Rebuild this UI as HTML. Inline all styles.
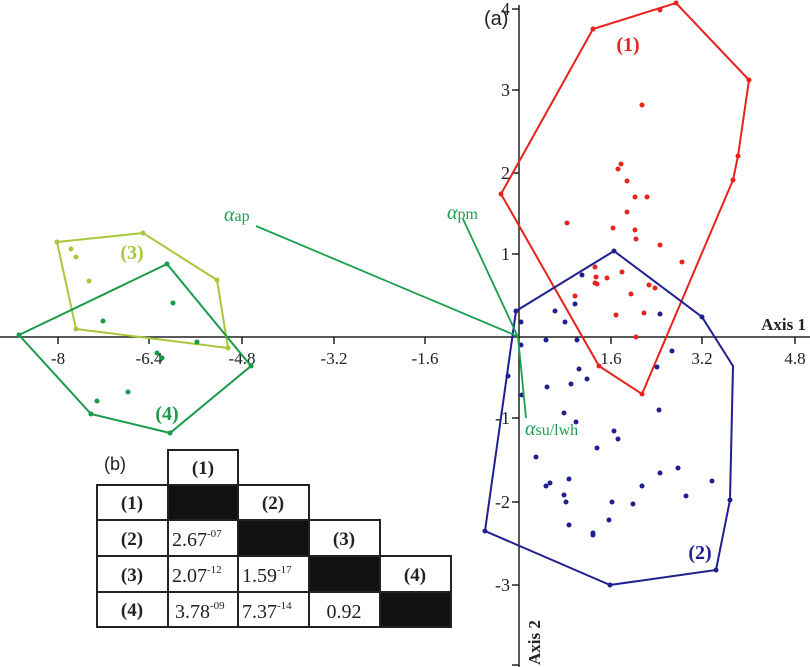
<!DOCTYPE html>
<html><head><meta charset="utf-8"><style>
html,body{margin:0;padding:0;background:#fff;}
svg{display:block;font-family:"Liberation Serif",serif;}
</style></head><body>
<svg width="810" height="667" viewBox="0 0 810 667" xmlns="http://www.w3.org/2000/svg">
<g stroke="#222" stroke-width="1.5" fill="none">
<line x1="0" y1="337" x2="810" y2="337"/>
<line x1="519" y1="5" x2="519" y2="667"/>
<line x1="58" y1="337" x2="58" y2="344"/><line x1="149" y1="337" x2="149" y2="344"/>
<line x1="242" y1="337" x2="242" y2="344"/><line x1="334" y1="337" x2="334" y2="344"/>
<line x1="425" y1="337" x2="425" y2="344"/><line x1="611" y1="337" x2="611" y2="344"/>
<line x1="702" y1="337" x2="702" y2="344"/><line x1="795" y1="337" x2="795" y2="344"/>
<line x1="512" y1="9" x2="519" y2="9"/><line x1="512" y1="90" x2="519" y2="90"/>
<line x1="512" y1="173" x2="519" y2="173"/><line x1="512" y1="254" x2="519" y2="254"/>
<line x1="512" y1="418" x2="519" y2="418"/><line x1="512" y1="502" x2="519" y2="502"/>
<line x1="512" y1="585" x2="519" y2="585"/><line x1="512" y1="665" x2="519" y2="665"/>
</g>
<g font-size="17" fill="#222" text-anchor="middle">
<text x="58" y="364">-8</text><text x="149" y="364">-6.4</text><text x="242" y="364">-4.8</text>
<text x="334" y="364">-3.2</text><text x="425" y="364">-1.6</text><text x="611" y="364">1.6</text>
<text x="702" y="364">3.2</text><text x="795" y="364">4.8</text>
</g>
<g font-size="18" fill="#222" text-anchor="end">
<text x="510" y="15">4</text><text x="510" y="96">3</text><text x="510" y="179">2</text>
<text x="510" y="260">1</text><text x="510" y="424">-1</text><text x="510" y="508">-2</text>
<text x="510" y="591">-3</text>
</g>
<text x="806" y="330" font-size="17" font-weight="bold" text-anchor="end" fill="#222">Axis 1</text>
<text transform="translate(540,665) rotate(-90)" font-size="17" font-weight="bold" fill="#222">Axis 2</text>
<text x="484" y="25" font-family="Liberation Sans,sans-serif" font-size="20" fill="#222">(a)</text>

<polygon points="501,194 593,29 676,3 749,80 738,156 733,180 642,394 599,366" fill="none" stroke="#e8221c" stroke-width="2"/>
<g fill="#e8221c">
<circle cx="501" cy="194" r="2.5"/><circle cx="593" cy="29" r="2.5"/><circle cx="676" cy="3" r="2.5"/><circle cx="749" cy="80" r="2.5"/><circle cx="733" cy="180" r="2.5"/><circle cx="642" cy="394" r="2.5"/><circle cx="599" cy="366" r="2.5"/>
<circle cx="660" cy="10" r="2.5"/><circle cx="642" cy="105" r="2.5"/><circle cx="621" cy="164" r="2.5"/><circle cx="618" cy="169" r="2.5"/><circle cx="627" cy="181" r="2.5"/><circle cx="738" cy="156" r="2.5"/>
<circle cx="635" cy="197" r="2.5"/><circle cx="647" cy="197" r="2.5"/><circle cx="627" cy="212" r="2.5"/><circle cx="567" cy="223" r="2.5"/><circle cx="613" cy="228" r="2.5"/><circle cx="635" cy="230" r="2.5"/><circle cx="636" cy="239" r="2.5"/><circle cx="660" cy="245" r="2.5"/><circle cx="682" cy="262" r="2.5"/><circle cx="595" cy="267" r="2.5"/><circle cx="596" cy="277" r="2.5"/><circle cx="607" cy="278" r="2.5"/><circle cx="595" cy="283" r="2.5"/><circle cx="597" cy="284" r="2.5"/><circle cx="622" cy="272" r="2.5"/><circle cx="649" cy="285" r="2.5"/><circle cx="655" cy="288" r="2.5"/><circle cx="575" cy="296" r="2.5"/><circle cx="631" cy="294" r="2.5"/><circle cx="616" cy="315" r="2.5"/><circle cx="644" cy="313" r="2.5"/><circle cx="636" cy="337" r="2.5"/>
</g>
<text x="628" y="51" font-size="20" font-weight="bold" fill="#e8221c" text-anchor="middle">(1)</text>

<polygon points="516,311 614,251 702,317 733,366 730,500 716,570 610,585 485,531" fill="none" stroke="#1f1f8f" stroke-width="2"/>
<g fill="#1f1f8f">
<circle cx="516" cy="311" r="2.5"/><circle cx="614" cy="251" r="2.5"/><circle cx="702" cy="317" r="2.5"/><circle cx="730" cy="500" r="2.5"/><circle cx="716" cy="570" r="2.5"/><circle cx="610" cy="585" r="2.5"/><circle cx="485" cy="531" r="2.5"/>
<circle cx="582" cy="275" r="2.5"/><circle cx="555" cy="311" r="2.5"/><circle cx="565" cy="322" r="2.5"/><circle cx="575" cy="304" r="2.5"/><circle cx="660" cy="314" r="2.5"/><circle cx="521" cy="322" r="2.5"/><circle cx="546" cy="340" r="2.5"/><circle cx="577" cy="340" r="2.5"/><circle cx="521" cy="345" r="2.5"/><circle cx="672" cy="351" r="2.5"/><circle cx="657" cy="367" r="2.5"/><circle cx="579" cy="369" r="2.5"/><circle cx="587" cy="379" r="2.5"/><circle cx="571" cy="384" r="2.5"/><circle cx="547" cy="387" r="2.5"/><circle cx="508" cy="376" r="2.5"/><circle cx="522" cy="395" r="2.5"/><circle cx="659" cy="410" r="2.5"/><circle cx="564" cy="413" r="2.5"/><circle cx="576" cy="422" r="2.5"/><circle cx="614" cy="431" r="2.5"/><circle cx="618" cy="439" r="2.5"/><circle cx="597" cy="448" r="2.5"/><circle cx="536" cy="457" r="2.5"/><circle cx="660" cy="473" r="2.5"/><circle cx="678" cy="468" r="2.5"/><circle cx="569" cy="479" r="2.5"/><circle cx="642" cy="486" r="2.5"/><circle cx="712" cy="481" r="2.5"/><circle cx="686" cy="496" r="2.5"/><circle cx="550" cy="483" r="2.5"/><circle cx="546" cy="486" r="2.5"/><circle cx="564" cy="495" r="2.5"/><circle cx="566" cy="502" r="2.5"/><circle cx="612" cy="502" r="2.5"/><circle cx="633" cy="504" r="2.5"/><circle cx="609" cy="520" r="2.5"/><circle cx="569" cy="525" r="2.5"/><circle cx="593" cy="533" r="2.5"/><circle cx="593" cy="535" r="2.5"/>
</g>
<text x="700" y="559" font-size="20" font-weight="bold" fill="#1f1f8f" text-anchor="middle">(2)</text>

<polygon points="57,242 143,233 217,280 228,348 76,329" fill="none" stroke="#a6c83a" stroke-width="2"/>
<g fill="#a6c83a">
<circle cx="57" cy="242" r="2.5"/><circle cx="143" cy="233" r="2.5"/><circle cx="217" cy="280" r="2.5"/><circle cx="228" cy="348" r="2.5"/><circle cx="76" cy="329" r="2.5"/>
<circle cx="71" cy="249" r="2.5"/><circle cx="76" cy="257" r="2.5"/><circle cx="89" cy="281" r="2.5"/>
</g>
<text x="132" y="259" font-size="20" font-weight="bold" fill="#a6c83a" text-anchor="middle">(3)</text>

<polygon points="19,335 167,264 251,366 170,433 91,414" fill="none" stroke="#1a9a4a" stroke-width="2"/>
<g fill="#1a9a4a">
<circle cx="19" cy="335" r="2.5"/><circle cx="167" cy="264" r="2.5"/><circle cx="251" cy="366" r="2.5"/><circle cx="170" cy="433" r="2.5"/><circle cx="91" cy="414" r="2.5"/>
<circle cx="173" cy="303" r="2.5"/><circle cx="103" cy="321" r="2.5"/><circle cx="197" cy="342" r="2.5"/><circle cx="157" cy="353" r="2.5"/><circle cx="162" cy="358" r="2.5"/><circle cx="128" cy="392" r="2.5"/><circle cx="97" cy="401" r="2.5"/>
</g>
<text x="167" y="420" font-size="20" font-weight="bold" fill="#1a9a4a" text-anchor="middle">(4)</text>

<g stroke="#1aa050" stroke-width="1.8" fill="none">
<line x1="256" y1="226" x2="517" y2="336"/>
<line x1="463" y1="219" x2="518" y2="337"/>
<line x1="518" y1="337" x2="526" y2="418"/>
</g>
<g fill="#1aa050" font-size="16">
<text x="224" y="221"><tspan font-style="italic" font-size="20">α</tspan>ap</text>
<text x="447" y="219"><tspan font-style="italic" font-size="20">α</tspan>pm</text>
<text x="525" y="435"><tspan font-style="italic" font-size="20">α</tspan>su/lwh</text>
</g>

<text x="104" y="470" font-family="Liberation Sans,sans-serif" font-size="18" fill="#222">(b)</text>
<g stroke="#222" stroke-width="2" fill="#fff">
<rect x="168" y="450" width="70" height="35"/>
<rect x="97" y="485" width="71" height="35"/><rect x="168" y="485" width="70" height="35" fill="#111"/><rect x="238" y="485" width="71" height="35"/>
<rect x="97" y="520" width="71" height="36"/><rect x="168" y="520" width="70" height="36"/><rect x="238" y="520" width="71" height="36" fill="#111"/><rect x="309" y="520" width="71" height="36"/>
<rect x="97" y="556" width="71" height="36"/><rect x="168" y="556" width="70" height="36"/><rect x="238" y="556" width="71" height="36"/><rect x="309" y="556" width="71" height="36" fill="#111"/><rect x="380" y="556" width="71" height="36"/>
<rect x="97" y="592" width="71" height="35"/><rect x="168" y="592" width="70" height="35"/><rect x="238" y="592" width="71" height="35"/><rect x="309" y="592" width="71" height="35"/><rect x="380" y="592" width="71" height="35" fill="#111"/>
</g>
<g font-size="19" font-weight="bold" fill="#222" text-anchor="middle">
<text x="203" y="474">(1)</text>
<text x="132" y="509">(1)</text><text x="273" y="509">(2)</text>
<text x="132" y="545">(2)</text><text x="344" y="545">(3)</text>
<text x="132" y="581">(3)</text><text x="415" y="581">(4)</text>
<text x="132" y="616">(4)</text>
</g>
<g font-size="20" fill="#222">
<text x="172" y="546">2.67<tspan font-size="11" dy="-9">-07</tspan></text>
<text x="172" y="582">2.07<tspan font-size="11" dy="-9">-12</tspan></text>
<text x="242" y="582">1.59<tspan font-size="11" dy="-9">-17</tspan></text>
<text x="175" y="618">3.78<tspan font-size="11" dy="-9">-09</tspan></text>
<text x="242" y="618">7.37<tspan font-size="11" dy="-9">-14</tspan></text>
<text x="344" y="618" text-anchor="middle">0.92</text>
</g>
</svg>
</body></html>
